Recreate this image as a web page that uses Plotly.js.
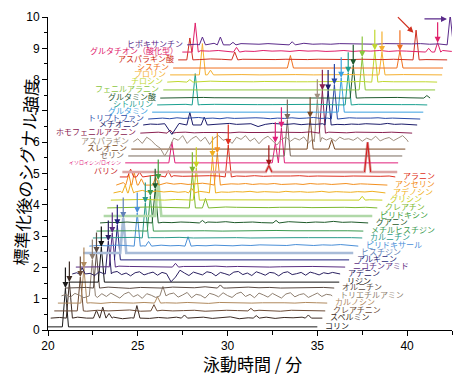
<!DOCTYPE html>
<html><head><meta charset="utf-8">
<script src="https://cdn.plot.ly/plotly-3.0.1.min.js"></script>
<style>body{margin:0;background:#fff}</style>
</head><body><div id="chart" style="width:472px;height:382px"></div>
<script>
const names = ["コリン","スペルミン","クレアチニン","カルノシン","トリエチルアミン","オルニチン","リジン","アデニン","ニコチンアミド","アルギニン","ヒスチジン","ピリドキサール","カルニチン","メチルヒスチジン","グアニン","ピリドキシン","クレアチン","グリシン","アデノシン","アンセリン","アラニン","バリン","イソロイシン/ロイシン","セリン","スレオニン","アスパラギン","ホモフェニルアラニン","メチオニン","トリプトファン","グルタミン","シトルリン","グルタミン酸","フェニルアラニン","チロシン","プロリン","シスチン","アスパラギン酸","グルタチオン（酸化型）","ヒポキサンチン"];
const baselines = [0.10,0.38,0.61,0.86,1.09,1.34,1.53,1.79,2.01,2.24,2.46,2.68,2.94,3.16,3.42,3.64,3.90,4.15,4.38,4.63,4.89,5.05,5.34,5.56,5.78,6.01,6.29,6.55,6.74,6.96,7.19,7.41,7.67,7.92,8.15,8.37,8.63,8.88,9.11];
const starts = [20.0,20.15,20.35,20.55,20.75,20.95,21.15,21.35,21.55,23.7,21.95,22.3,22.5,22.7,22.9,23.1,23.3,23.5,23.65,23.8,24.0,24.14,24.3,24.47,24.64,24.75,25.14,25.3,25.58,25.8,26.08,26.25,26.42,26.64,26.8,26.97,27.25,27.48,27.75];
const ends = [35.0,35.28,35.44,35.55,35.83,35.94,36.22,36.27,36.55,36.77,37.0,37.28,37.5,37.56,37.83,38.06,38.34,38.62,38.79,38.9,39.34,39.45,39.5,39.73,39.9,40.06,40.28,40.56,40.73,40.9,41.12,41.28,41.56,41.67,41.95,42.0,42.23,42.56,42.67];
// first arrowCount[i] peaks of each trace are the marked (arrowed) ones
const peakX = [
[20.97],[21.19,22.7,23.05,23.4,24.95,27.6,31.6,34.5],[21.8,25.9,31.3],[22.0,26.1],[22.47,26.4],[22.7,29.6],[22.97],[23.36,21.9],[23.58,27.1],[23.86],
[24.19],[24.97,25.6,27.8],[25.42],[25.7],[25.97,28.6,32.7],[26.14],[28.04,28.77],[28.26,37.5],[29.16,24.3,24.6,28.0],[29.43,24.5,24.8,25.2,26.0],
[30.04,24.6,25.1,26.7],[32.3,37.8],[32.66,33.0,26.9],[33.33],[34.6,35.8],[35.0],[35.28,26.8],[35.6,27.9,28.7],[35.95],[36.33],
[36.72,28.2],[37.0,41.1],[37.5],[38.2,27.9],[38.6,28.6,29.05],[39.6,33.5],[40.5,27.9,30.4],[41.7,28.2,30.5,41.2],[42.4,28.6,29.6,30.3,33.6]];
const peakH = [
[1.24],[1.15,0.25,0.35,0.15,0.4,0.1,0.08,0.1],[1.08,0.2,0.08],[1.12,0.2],[1.15,0.3],[1.12,0.1],[1.12],[1.05,0.2],[1.09,0.12],[1.11],
[1.12],[1.06,0.15,0.3],[1.12],[1.12],[1.08,0.08,0.08],[1.15],[1.12,0.3],[1.03,0.12],[1.15,0.25,0.3,0.15],[1.02,0.35,0.4,0.2,0.25],
[1.02,0.25,0.15,0.2],[0.2,0.95],[0.64,1.12,0.67],[1.15],[1.0,0.3],[1.35],[1.37,0.1],[1.1,0.4,0.25],[1.1],[1.1],
[1.03,1.0],[1.05,0.08],[1.05],[1.02,0.08],[0.73,1.0,0.15],[0.55,0.4],[0.95,0.7,0.25],[0.3,0.93,0.15,0.12],[0.96,0.25,0.25,0.08,0.1]];
const arrowCount = [1,1,1,1,1,1,1,1,1,1,1,1,1,1,1,1,1,1,1,1,1,1,2,1,1,1,1,1,1,1,1,1,1,1,1,1,1,1,1];
const noiseStep = [1,0.5,0.6,0.6,0.25,0.6,1,0.25,0.6,1,1,0.5,0.8,1,0.5,1,0.6,0.6,0.4,0.4,0.5,1,1,1,1,0.25,0.5,0.4,0.4,1,0.8,0.6,1,0.6,1,1,0.6,0.5,0.5];
const noiseH = [
[],
[0.02,-0.01,0.03,0,-0.02,0.02,0.03,-0.02,0.01,0.04,-0.01,0.02,0,0.03,-0.02,0.01,0.03,-0.01,0.02,0.04,-0.02,0.01,0.02,0.03,-0.01,0.02,0.01,0.03,-0.02,0.01],
[0.01,0.02,-0.01,0.02,0,0.01,0.03,-0.01,0.01,0.02,0,0.01,0.02,-0.01,0.01,0.02,0.01,0,0.02,0.01,-0.01,0.02,0.01,0.01],
[0,0.02,0.01,-0.01,0.02,0.01,0,0.02,0.03,0.01,0,0.02,0.01,-0.01,0.02,0.01,0.02,0,0.01,0.02,0.01,0,0.02,0.01],
[0.05,-0.04,0.08,0.02,-0.06,0.1,0.03,-0.05,0.07,-0.02,0.09,0.01,-0.07,0.06,0.12,-0.03,0.04,-0.08,0.07,0.02,-0.05,0.1,-0.02,0.06,0.09,-0.04,0.03,0.11,-0.06,0.05,0.02,-0.07,0.08,0.04,-0.03,0.1,0.01,-0.05,0.07,0.12,-0.02,0.05,-0.06,0.09,0.03,-0.04,0.08,0.01,-0.07,0.06,0.1,-0.03,0.04,0.07,-0.05,0.02,0.09,-0.02,0.05,0.03],
[0.01,0.02,0,0.03,0.01,-0.01,0.02,0.02,0,0.03,0.01,0.01,0.04,0.02,0,0.01,0.03,0.01,0.02,0,0.01,0.02,0.01,0.02],
[],
[0.04,-0.03,0.06,0.02,-0.05,0.07,0.01,-0.04,0.05,0.08,-0.02,0.03,-0.06,0.04,0.07,-0.03,0.02,0.06,-0.04,0.05,0.01,-0.25,-0.1,0.12,0.03,-0.05,0.06,0.02,-0.03,0.07,0.04,-0.06,0.05,0.01,-0.04,0.06,0.08,-0.02,0.03,-0.05,0.07,0.02,-0.04,0.05,0.03,-0.06,0.04,0.07,-0.02,0.01,0.05,-0.04,0.06,0.02,-0.03,0.04,0.01,0.05],
[0.01,0.02,0.01,0.03,0.02,0.01,0.02,0.01,0,0.02,0.01,0.02,0.03,0.01,0.02,0.01,0.02,0,0.01,0.02,0.01,0.02],
[],
[],
[0.02,0.01,0.03,0.02,0.04,0.01,0.02,0.03,0.01,0.02,0.04,0.02,0.01,0.03,0.02,0.01,0.03,0.02,0.04,0.03,0.01,0.02,0.05,0.03,0.02,0.04,0.03,0.05,0.02,0.03],
[0.01,0,0.02,0.01,0.01,0.02,0,0.01,0.02,0.01,0,0.01,0.02,0.01,0.01,0.02,0.01,0.01],
[0.01,0.01,0,0.01,0.02,0.01,0,0.01,0.01,0.02,0.01,0,0.01,0.01],
[0.02,0.01,0.03,0.01,0.02,0.04,0.02,0.01,0.03,0.02,0.01,0.03,0.02,0.04,0.01,0.02,0.03,0.01,0.02,0.03,0.04,0.02,0.01,0.03,0.02,0.05,0.02,0.03,0.01,0.02],
[],
[0.01,0.02,0.01,0.03,0.02,0.01,0.02,0.01,0.02,0.01,0.03,0.02,0.01,0.02,0.01,0.02,0.03,0.02,0.01,0.02,0.01,0.02,0.01,0.02],
[0.01,0.01,0.02,0.01,0,0.02,0.01,0.02,0.01,0.01,0.02,0.01,0,0.01,0.02,0.01,0.01,0.02,0.01,0.01,0.02,0.01,0.01,0.01],
[0.05,0.1,0.03,0.08,0.02,0.06,0.03,0.05,0.02,0.04,0.03,0.05,0.02,0.04,0.03,0.02,0.04,0.03,0.05,0.02,0.04,0.03,0.02,0.05,0.03,0.04,0.02,0.03,0.05,0.02,0.04,0.03,0.02,0.04,0.03,0.05,0.03],
[0.08,0.03,0.12,0.05,0.1,0.04,0.07,0.03,0.05,0.02,0.04,0.06,0.03,0.05,0.02,0.04,0.03,0.05,0.02,0.04,0.03,0.05,0.02,0.03,0.04,0.02,0.05,0.03,0.04,0.02,0.03,0.05,0.02,0.04,0.03,0.02,0.03],
[0.03,0.05,0.02,0.06,0.03,0.04,0.02,0.03,0.02,0.04,0.03,0.02,0.03,0.02,0.04,0.02,0.03,0.02,0.03,0.04,0.02,0.03,0.02,0.03,0.02,0.03,0.02,0.03,0.02,0.03],
[],
[],
[],
[],
[0.1,-0.05,0.15,0.05,-0.1,-0.2,-0.45,-0.2,0.12,0.05,0.2,-0.05,0.1,0.18,0.02,0.15,-0.08,0.12,0.2,0.05,0.1,-0.05,0.15,0.08,0.2,0.02,0.12,-0.06,0.1,0.18,0.04,-0.1,0.08,0.15,0.02,0.12,0.06,0.16,-0.04,0.1,0.04,0.14,0.06,0.12,0.02,0.15,0.08,0.1,0.05,0.14,0.02,0.12,0.06,0.18,0.03,0.1,0.14,0.04,0.12,0.2,0.06],
[0.02,0.03,0.1,0.02,0.03,0.01,0.02,0.03,0.02,0.01,0.03,0.02,0.01,0.02,0.03,0.02,0.01,0.02,0.04,0.02,0.03,0.02,0.01,0.03,0.02,0.01,0.02,0.03,0.02,0.01],
[0.03,0.02,0.04,-0.3,0.05,0.02,0.03,0.01,0.04,0.02,0.03,0.05,0.02,0.03,0.04,-0.05,0.02,0.05,0.03,0.02,0.04,0.01,0.03,0.02,0.04,0.03,0.02,0.01,0.03,0.02,0.04,0.03,0.02,0.05,0.02,0.03,0.02],
[0.02,0.03,0.01,0.04,0.02,0.03,0.05,0.02,0.03,0.01,0.04,0.02,0.03,0.02,0.04,0.03,0.01,0.03,0.02,0.04,0.02,0.03,0.05,0.02,0.03,0.01,0.02,0.04,0.03,0.02,0.03,0.04,0.02,0.03,0.02,0.03,0.02],
[],
[0.01,0.02,0.01,0.02,0.01,0.02,0.01,0.01,0.02,0.01,0.02,0.01,0.01,0.02,0.01,0.02,0.01,0.01],
[0.01,0.02,0.01,0.02,0.01,0.01,0.02,0.01,0.02,0.01,0.01,0.02,0.01,0.02,0.01,0.01,0.02,0.01,0.01,0.02,0.01,0.02,0.01,0.01],
[],
[0.02,0.03,0.01,0.03,0.02,0.01,0.02,0.01,0.02,0.01,0.02,0.01,0.01,0.02,0.01,0.02,0.01,0.02,0.01,0.02,0.01,0.02,0.01,0.01],
[0.01,0,0.01,0.01,0,0.01,0.01,0,0.01,0.01,0,0.01,0.01,0],
[],
[0.02,0.01,0.03,0.02,0.01,0.02,0.01,0.02,0.01,0.02,0.01,0.01,0.02,0.01,0.02,0.01,0.02,0.01,0.01,0.02,0.01,0.02,0.01,0.01],
[0.02,0.04,0.03,0.05,0.02,0.04,0.03,0.02,0.05,0.03,0.04,0.02,0.05,0.03,0.04,0.02,0.03,0.05,0.02,0.04,0.03,0.05,0.02,0.04,0.03,0.02,0.04,0.03,0.05,0.02],
[0.02,0.03,0.05,0.1,0.06,0.04,0.03,0.02,0.04,0.03,0.02,0.03,0.05,0.02,0.03,0.02,0.04,0.03,0.02,0.03,0.02,0.04,0.03,0.02,0.03,0.04,0.02,0.03,0.02]];

const labelColors = ["#1a1a1a","#3b2a22","#6b4a35","#b08a5e","#8f7f70","#5a4a42","#111111","#2a2060","#5a2d82","#1f1f7a","#6080b8","#4a8fd8","#2a9a8a","#3a9a50","#1f5a2a","#40a040","#7cb82f","#c8d020","#f0b020","#f39020","#e03020","#c81e28","#e0207a","#7a6a5e","#7a4a25","#a09080","#8a2050","#1c1c6a","#2a4aa8","#3aa0e0","#1aa090","#1f5a2f","#8cc63f","#c0d830","#f5b030","#f07020","#d03020","#e0206a","#5a2a8a"];
const lineColors = labelColors.slice();
lineColors[10] = "#a8bcd8"; lineColors[15] = "#b0d8a8"; lineColors[21] = "#dca4a4";
const thick = {10:2.6, 15:2.6, 21:2.6};
const HW = 0.17;
const nBottom = 21;
const jp = '"Noto Sans CJK JP", sans-serif';

function buildPoints(i){
  const pts = [[starts[i],0]];
  const pk = peakX[i];
  noiseH[i].forEach((h,k)=>{
    const x = starts[i] + (k+1)*noiseStep[i];
    if (x >= ends[i]-0.05) return;
    if (pk.some(p=>Math.abs(p-x) < HW+0.05)) return;
    pts.push([x,h]);
  });
  pk.forEach((p,j)=>{ pts.push([p-HW,0],[p,peakH[i][j]],[p+HW,0]); });
  pts.push([ends[i],0]);
  pts.sort((a,b)=>a[0]-b[0]);
  return pts;
}

const traces = names.map((n,i)=>{
  const pts = buildPoints(i);
  return {type:'scatter', mode:'lines', x:pts.map(p=>p[0]), y:pts.map(p=>baselines[i]+p[1]),
    line:{color:lineColors[i], width:thick[i]||1}, hoverinfo:'skip', showlegend:false};
});
// red overlay on the peaks of the thick バリン trace
peakX[21].forEach((p,j)=>{
  traces.push({type:'scatter', mode:'lines', x:[p-HW,p,p+HW], y:[baselines[21],baselines[21]+peakH[21][j],baselines[21]],
    line:{color:'#d42020', width:1.1}, hoverinfo:'skip', showlegend:false});
});

const annotations = [];
names.forEach((n,i)=>{
  const bottom = i < nBottom;
  annotations.push({x: bottom ? ends[i]+0.3 : starts[i]-0.12, y: baselines[i]+0.04, xref:'x', yref:'y',
    text:n, showarrow:false, xanchor: bottom?'left':'right', yanchor:'middle',
    font:{family:jp, size: i===22 ? 5 : 8, color:labelColors[i]}});
  for (let j=0;j<arrowCount[i];j++){
    const px = peakX[i][j], top = baselines[i]+peakH[i][j];
    let a = {x:px, y:top, ax:0, ay:-22};
    if (i===36) a = {x:px-0.15, y:top-0.08, ax:-17, ay:-17};
    if (i===38) a = {x:px-0.18, y:top-0.13, ax:-24, ay:0};
    annotations.push(Object.assign(a,{xref:'x', yref:'y', text:'', showarrow:true, arrowhead:2, arrowsize:1, arrowwidth:1.2, standoff:0,
      arrowcolor: i===21 ? '#a01818' : labelColors[i]}));
  }
});
// axis titles
annotations.push({xref:'paper', yref:'paper', x:-0.055, y:0.505, text:'標準化後のシグナル強度', textangle:-86.5, showarrow:false,
  xanchor:'center', yanchor:'middle', font:{family:jp, size:17, color:'#000'}});
annotations.push({xref:'paper', yref:'paper', x:0.505, y:-0.107, text:'泳動時間 / 分', showarrow:false,
  xanchor:'center', yanchor:'middle', font:{family:jp, size:17, color:'#000'}});

const tickFont = {family:'"Liberation Sans", Arial, sans-serif', size:12, color:'#000'};
const layout = {
  width:472, height:382, margin:{l:48, r:20, t:17, b:52},
  paper_bgcolor:'#fff', plot_bgcolor:'#fff', showlegend:false, hovermode:false,
  xaxis:{range:[20,42.5], tickvals:[20,25,30,35,40], ticks:'outside', ticklen:5, tickcolor:'#000',
    showline:true, linecolor:'#000', linewidth:1, showgrid:false, zeroline:false, tickfont:tickFont,
    minor:{dtick:2.5, tick0:20, ticks:'outside', ticklen:4, tickcolor:'#000'}},
  yaxis:{range:[0,10], dtick:1, ticks:'outside', ticklen:5, tickcolor:'#000',
    showline:true, linecolor:'#000', linewidth:1, showgrid:false, zeroline:false, tickfont:tickFont,
    minor:{dtick:0.5, ticks:'outside', ticklen:3, tickcolor:'#000'}},
  annotations: annotations
};
Plotly.newPlot('chart', traces, layout, {staticPlot:true, displayModeBar:false});
</script></body></html>
